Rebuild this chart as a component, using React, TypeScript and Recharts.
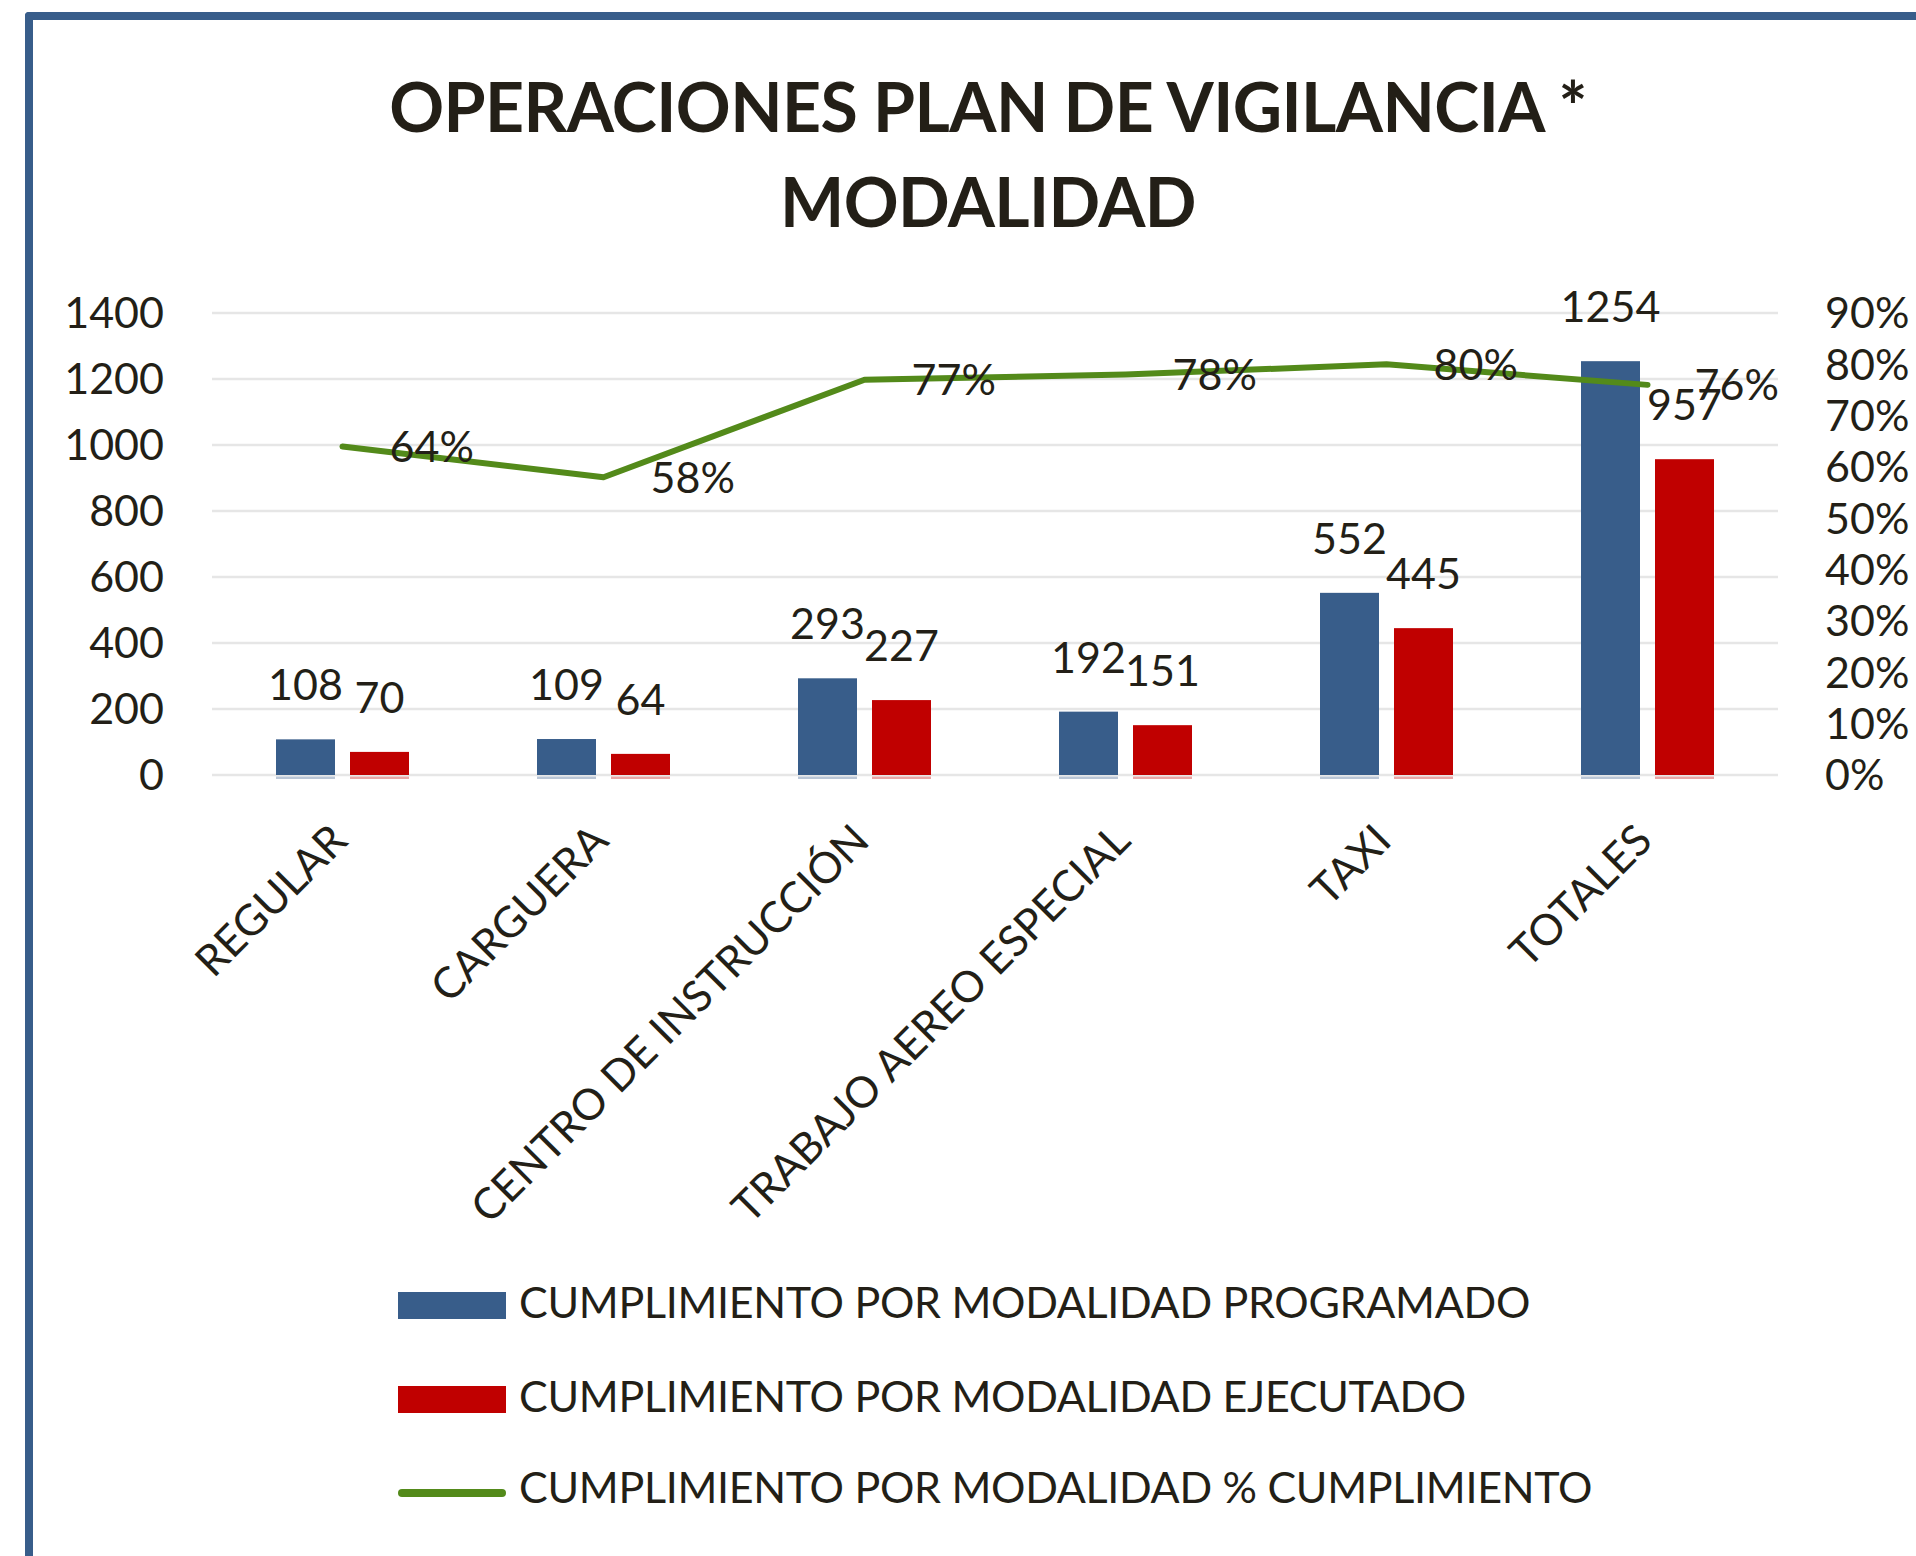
import React from 'react';
import {
  ComposedChart,
  Bar,
  Line,
  XAxis,
  YAxis,
  CartesianGrid,
  LabelList,
  Legend
} from 'recharts';

// categories and values
const categories = [
  'REGULAR',
  'CARGUERA',
  'CENTRO DE INSTRUCCIÓN',
  'TRABAJO AEREO ESPECIAL',
  'TAXI',
  'TOTALES'
];
const programado = [108, 109, 293, 192, 552, 1254];
const ejecutado = [70, 64, 227, 151, 445, 957];
const cumplimiento = [0.64, 0.58, 0.77, 0.78, 0.8, 0.76];

const leftTicks = [0, 200, 400, 600, 800, 1000, 1200, 1400];
const rightTicks = [0, 0.1, 0.2, 0.3, 0.4, 0.5, 0.6, 0.7, 0.8, 0.9];

const seriesNames = [
  'CUMPLIMIENTO POR MODALIDAD PROGRAMADO',
  'CUMPLIMIENTO POR MODALIDAD EJECUTADO',
  'CUMPLIMIENTO POR MODALIDAD % CUMPLIMIENTO'
];

const BLUE = '#385d8a';
const RED = '#c00000';
const GREEN = '#538a1a';
const INK = '#231f17';
const FONT = 'Lato, "Open Sans", sans-serif';

const chartData = categories.map((cat, i) => ({
  cat,
  programado: programado[i],
  ejecutado: ejecutado[i],
  pct: cumplimiento[i]
}));

const pctFmt = (v: number) => `${Math.round(v * 100)}%`;

// bar with the faint reflection strip under the baseline
const BarWithShadow = (props: any) => {
  const { x, y, width, height, fill } = props;
  if (height == null || height <= 0) return null;
  return (
    <g>
      <rect x={x} y={y} width={width} height={height} fill={fill} />
      <rect x={x} y={y + height + 1.5} width={width} height={2.5} fill={fill} opacity={0.35} />
    </g>
  );
};

const CategoryTick = (props: any) => {
  const { x, y, payload } = props;
  const px = x + 7;
  const py = y + 68;
  return (
    <text
      x={px}
      y={py}
      textAnchor="end"
      transform={`rotate(-45, ${px}, ${py})`}
      fontSize={43}
      fontFamily={FONT}
      fill={INK}
    >
      {payload.value}
    </text>
  );
};

const renderLegend = () => {
  const rows = [
    { kind: 'rect', color: BLUE, base: 1318 },
    { kind: 'rect', color: RED, base: 1412 },
    { kind: 'line', color: GREEN, base: 1503 }
  ];
  return (
    <svg width={1916} height={276} style={{ display: 'block', overflow: 'visible' }}>
      {rows.map((r, i) => {
        const b = r.base - 1280;
        return (
          <g key={i}>
            {r.kind === 'rect' ? (
              <rect x={398} y={b - 26} width={108} height={27} fill={r.color} />
            ) : (
              <line x1={402} x2={502} y1={b - 10} y2={b - 10} stroke={r.color} strokeWidth={8} strokeLinecap="round" />
            )}
            <text x={519} y={b} fontSize={43} letterSpacing={-0.3} fontFamily={FONT} fill={INK}>
              {seriesNames[i]}
            </text>
          </g>
        );
      })}
    </svg>
  );
};

const App: React.FC = () => {
  return (
    <div
      style={{
        position: 'fixed',
        left: 0,
        top: 0,
        width: 1916,
        height: 1556,
        overflow: 'hidden',
        background: '#fff',
        fontFamily: FONT
      }}
    >
      {/* frame: only top and left edges are visible in the crop */}
      <div
        style={{
          position: 'absolute',
          left: 25,
          top: 12,
          width: 2000,
          height: 1700,
          borderLeft: `8px solid ${BLUE}`,
          borderTop: `8px solid ${BLUE}`,
          borderTopLeftRadius: 4
        }}
      />
      <svg width={1916} height={260} style={{ position: 'absolute', left: 0, top: 0 }}>
        <text x={988} y={132} textAnchor="middle" fontSize={68} letterSpacing={-0.6} fontWeight={700} fontFamily={FONT} fill={INK}>
          OPERACIONES PLAN DE VIGILANCIA *
        </text>
        <text x={988} y={227} textAnchor="middle" fontSize={68} letterSpacing={-0.6} fontWeight={700} fontFamily={FONT} fill={INK}>
          MODALIDAD
        </text>
      </svg>
      <div style={{ position: 'absolute', left: 0, top: 0 }}>
        <ComposedChart
          width={1916}
          height={1556}
          data={chartData}
          margin={{ top: 313, right: 0, bottom: 500, left: 0 }}
          barSize={59}
          barGap={15}
        >
          <CartesianGrid yAxisId="left" vertical={false} stroke="#e6e6e6" strokeWidth={2.5} />
          <XAxis
            dataKey="cat"
            interval={0}
            height={281}
            axisLine={false}
            tickLine={false}
            tickSize={0}
            tickMargin={0}
            tick={<CategoryTick />}
          />
          <YAxis
            yAxisId="left"
            width={212}
            domain={[0, 1400]}
            ticks={leftTicks}
            interval={0}
            axisLine={false}
            tickLine={false}
            tickSize={0}
            tickMargin={48}
            tick={{ fontSize: 43, fontFamily: FONT, fill: INK }}
          />
          <YAxis
            yAxisId="right"
            orientation="right"
            width={138}
            domain={[0, 0.9]}
            ticks={rightTicks}
            interval={0}
            tickFormatter={pctFmt}
            axisLine={false}
            tickLine={false}
            tickSize={0}
            tickMargin={47}
            tick={{ fontSize: 43, fontFamily: FONT, fill: INK }}
          />
          <Bar yAxisId="left" dataKey="programado" fill={BLUE} shape={<BarWithShadow />} isAnimationActive={false}>
            <LabelList dataKey="programado" position="top" offset={39} fontSize={43} fontFamily={FONT} fill={INK} />
          </Bar>
          <Bar yAxisId="left" dataKey="ejecutado" fill={RED} shape={<BarWithShadow />} isAnimationActive={false}>
            <LabelList dataKey="ejecutado" position="top" offset={39} fontSize={43} fontFamily={FONT} fill={INK} />
          </Bar>
          <Line
            yAxisId="right"
            dataKey="pct"
            stroke={GREEN}
            strokeWidth={6}
            strokeLinecap="round"
            strokeLinejoin="round"
            dot={false}
            activeDot={false}
            isAnimationActive={false}
          >
            <LabelList
              dataKey="pct"
              position="right"
              offset={47}
              formatter={(v: any) => pctFmt(Number(v))}
              fontSize={43}
              fontFamily={FONT}
              fill={INK}
            />
          </Line>
          <Legend
            layout="vertical"
            align="center"
            verticalAlign="middle"
            content={renderLegend}
            wrapperStyle={{ position: 'absolute', left: 0, top: 1280, width: 1916, height: 276 }}
          />
        </ComposedChart>
      </div>
    </div>
  );
};

export default App;
